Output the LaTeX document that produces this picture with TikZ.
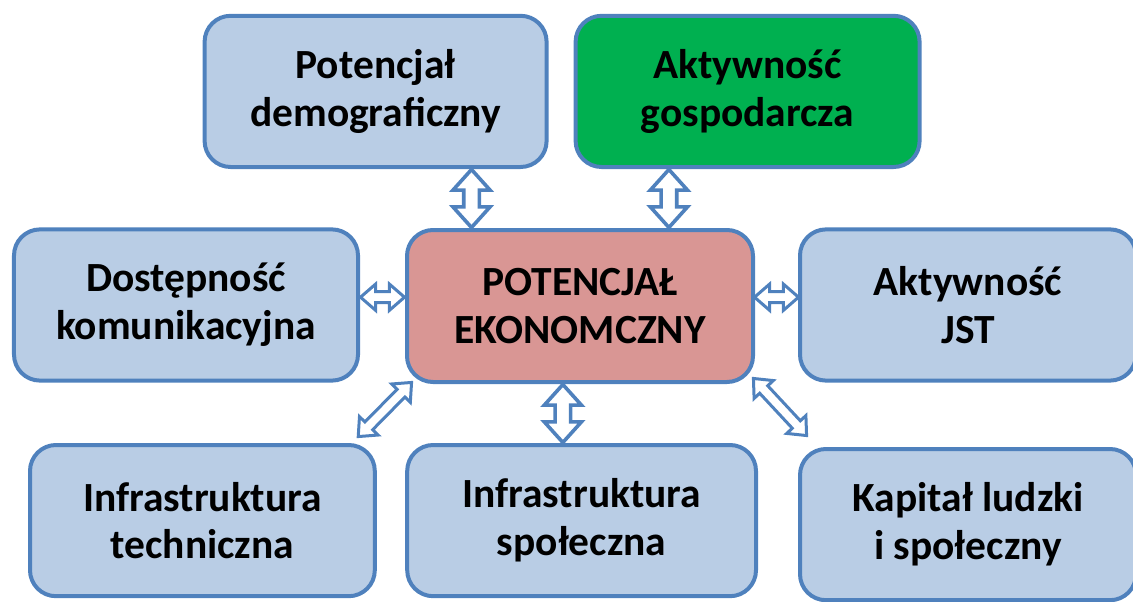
\documentclass[tikz,border=0pt]{standalone}
\usepackage{fontspec}
\setmainfont{Carlito}
\usetikzlibrary{shapes.arrows,calc}

\definecolor{ramka}{HTML}{4F81BD}
\definecolor{niebieski}{HTML}{B9CDE5}
\definecolor{rozowy}{HTML}{D99694}
\definecolor{zielony}{HTML}{00B050}

\tikzset{
    blok/.style={draw=ramka, fill=niebieski, line width=0.1cm, rounded corners=0.65cm,
        minimum width=8.55cm, minimum height=3.78cm, inner sep=0pt, align=center,
        font=\fontsize{29.5}{34}\selectfont\bfseries},
    strz/.style={double arrow, draw=ramka, fill=white, line width=0.09cm,
        inner xsep=0pt, inner ysep=0.15cm, double arrow head extend=0.27cm,
        double arrow tip angle=84},
    strzmala/.style={strz, line width=0.075cm, inner ysep=0.1cm,
        double arrow head extend=0.19cm, double arrow tip angle=82}
}

\begin{document}
\begin{tikzpicture}
    \useasboundingbox (0,0) rectangle (28.325,15.025);

    \node[blok] (dem) at (9.39,12.74) {Potencjał\\demograficzny};
    \node[blok, fill=zielony, minimum width=8.6cm] (akt) at (18.69,12.74) {Aktywność\\gospodarcza};
    \node[blok, minimum width=8.6cm] (dos) at (4.65,7.4) {Dostępność\\komunikacyjna};
    \node[blok, fill=rozowy, minimum width=8.65cm, minimum height=3.8cm] (eko) at (14.5,7.375) {POTENCJAŁ\\EKONOMCZNY};
    \node[blok, minimum width=8.4cm] (jst) at (24.2,7.4) {Aktywność\\JST};
    \node[blok, minimum width=8.62cm] (tec) at (5.06,2.01) {Infrastruktura\\techniczna};
    \node[blok, minimum width=8.72cm] (ins) at (14.54,2.01) {Infrastruktura\\społeczna};
    \node[blok, minimum width=8.4cm] (kap) at (24.2,1.91) {Kapitał ludzki\\i społeczny};

    % pionowe
    \coordinate (p1) at ($(eko.north west)!0.19!(eko.north east)$);
    \coordinate (p2) at ($(eko.north west)!0.754!(eko.north east)$);
    \coordinate (p3) at ($(eko.south west)!0.451!(eko.south east)$);
    \path (p1) -- (p1 |- dem.south) node[strz, midway, sloped, minimum height=1.45cm] {};
    \path (p2) -- (p2 |- akt.south) node[strz, midway, sloped, minimum height=1.45cm] {};
    \path (p3) -- (p3 |- ins.north) node[strz, midway, sloped, minimum height=1.45cm] {};

    % poziome
    \coordinate (p4) at ($(eko.west)+(0,0.22)$);
    \coordinate (p5) at ($(eko.east)+(0,0.22)$);
    \path (dos.east |- p4) -- (p4) node[strzmala, midway, sloped, minimum height=1.1cm] {};
    \path (p5) -- (jst.west |- p5) node[strzmala, midway, sloped, minimum height=1.1cm] {};

    % ukosne
    \coordinate (q1) at ($(eko.south west)+(0.175,0.05)$);
    \coordinate (q2) at ($(tec.north east)+(-0.475,0.15)$);
    \coordinate (q3) at ($(eko.south east)+(-0.05,0.15)$);
    \coordinate (q4) at ($(kap.north west)+(0.225,0.275)$);
    \path (q1) -- (q2) node[strzmala, midway, sloped, minimum height=1.9cm] {};
    \path (q3) -- (q4) node[strzmala, midway, sloped, minimum height=1.95cm] {};
\end{tikzpicture}
\end{document}
